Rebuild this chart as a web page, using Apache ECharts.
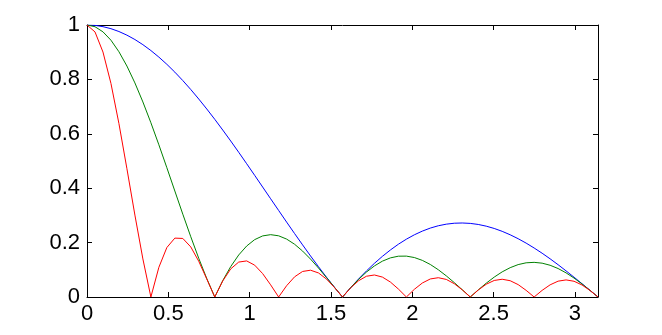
<!DOCTYPE html>
<html><head><meta charset="utf-8">
<script src="https://cdn.jsdelivr.net/npm/echarts@6/dist/echarts.min.js"></script>
<style>html,body{margin:0;padding:0;background:#fff}#c{width:662px;height:335px}</style>
</head><body><div id="c"></div>
<script>
const xs = [0,0.0491,0.0982,0.1473,0.1963,0.2454,0.2945,0.3436,0.3927,0.4418,0.4909,0.5400,0.5890,0.6381,0.6872,0.7363,0.7854,0.8345,0.8836,0.9327,0.9817,1.0308,1.0799,1.1290,1.1781,1.2272,1.2763,1.3254,1.3744,1.4235,1.4726,1.5217,1.5708,1.6199,1.6690,1.7181,1.7671,1.8162,1.8653,1.9144,1.9635,2.0126,2.0617,2.1108,2.1598,2.2089,2.2580,2.3071,2.3562,2.4053,2.4544,2.5035,2.5525,2.6016,2.6507,2.6998,2.7489,2.7980,2.8471,2.8962,2.9452,2.9943,3.0434,3.0925,3.1416];
const blue = [1,0.9986,0.9939,0.9865,0.9760,0.9627,0.9466,0.9277,0.9061,0.8820,0.8555,0.8267,0.7957,0.7627,0.7278,0.6913,0.6533,0.6139,0.5735,0.5321,0.4900,0.4473,0.4043,0.3612,0.3182,0.2754,0.2332,0.1916,0.1508,0.1111,0.0726,0.0355,0,0.0338,0.0658,0.0958,0.1238,0.1495,0.1729,0.1940,0.2126,0.2287,0.2423,0.2534,0.2619,0.2678,0.2712,0.2721,0.2706,0.2667,0.2604,0.2520,0.2414,0.2288,0.2143,0.1981,0.1802,0.1610,0.1404,0.1187,0.0961,0.0728,0.0488,0.0245,0];
const green = [1,0.9937,0.9748,0.9441,0.9017,0.8491,0.7871,0.7171,0.6407,0.5596,0.4753,0.3897,0.3045,0.2214,0.1420,0.0678,0,0.0602,0.1119,0.1545,0.1875,0.2109,0.2246,0.2292,0.2250,0.2129,0.1939,0.1689,0.1393,0.1063,0.0712,0.0354,0,0.0337,0.0646,0.0917,0.1143,0.1318,0.1438,0.1500,0.1503,0.1451,0.1346,0.1195,0.1002,0.0777,0.0529,0.0267,0,0.0261,0.0508,0.0731,0.0924,0.1078,0.1191,0.1257,0.1274,0.1244,0.1167,0.1047,0.0888,0.0696,0.0479,0.0244,0];
const red = [1,0.9746,0.9006,0.7850,0.6376,0.4717,0.3012,0.1399,0,0.1092,0.1819,0.2165,0.2153,0.1841,0.1312,0.0665,0,0.0590,0.1034,0.1284,0.1326,0.1171,0.0860,0.0447,0,0.0415,0.0742,0.0939,0.0985,0.0884,0.0658,0.0347,0,0.0330,0.0596,0.0763,0.0809,0.0732,0.0550,0.0293,0,0.0283,0.0515,0.0664,0.0709,0.0646,0.0489,0.0262,0,0.0256,0.0469,0.0608,0.0653,0.0599,0.0456,0.0245,0,0.0243,0.0447,0.0582,0.0628,0.0579,0.0442,0.0239,0];
const xTicks = [0,0.5,1,1.5,2,2.5,3];
const yTicks = [0,0.2,0.4,0.6,0.8,1];
const xMax = 3.1416;

const chart = echarts.init(document.getElementById('c'), null, {renderer:'canvas'});
const pairs = ys => xs.map((x,i)=>[x, ys[i]]);
const font = {fontFamily:'Liberation Sans, Arial, sans-serif', fontSize:22, color:'#000'};
const axLine = {show:true, onZero:false, lineStyle:{color:'#000', width:1}};
const tick = {show:true, inside:true, length:5, lineStyle:{color:'#000', width:1}};
chart.setOption({
  animation:false,
  backgroundColor:'#fff',
  grid:{left:87, top:25, right:64, bottom:38, containLabel:false},
  xAxis:[
    {type:'value', min:0, max:xMax, position:'bottom', axisLine:axLine,
     axisTick:Object.assign({customValues:xTicks}, tick),
     axisLabel:Object.assign({customValues:xTicks, margin:6}, font), splitLine:{show:false}},
    {type:'value', min:0, max:xMax, position:'top', axisLine:axLine,
     axisTick:Object.assign({customValues:xTicks}, tick),
     axisLabel:{show:false}, splitLine:{show:false}}
  ],
  yAxis:[
    {type:'value', min:0, max:1, interval:0.2, position:'left', axisLine:axLine,
     axisTick:Object.assign({customValues:yTicks}, tick),
     axisLabel:Object.assign({customValues:yTicks, margin:7}, font), splitLine:{show:false}},
    {type:'value', min:0, max:1, interval:0.2, position:'right', axisLine:axLine,
     axisTick:Object.assign({customValues:yTicks}, tick),
     axisLabel:{show:false}, splitLine:{show:false}}
  ],
  series:[
    {type:'line', data:pairs(blue), showSymbol:false, symbol:'none', lineStyle:{color:'#0000ff', width:1}, itemStyle:{color:'#0000ff'}},
    {type:'line', data:pairs(green), showSymbol:false, symbol:'none', lineStyle:{color:'#008000', width:1}, itemStyle:{color:'#008000'}},
    {type:'line', data:pairs(red), showSymbol:false, symbol:'none', lineStyle:{color:'#ff0000', width:1}, itemStyle:{color:'#ff0000'}}
  ]
});
</script></body></html>
